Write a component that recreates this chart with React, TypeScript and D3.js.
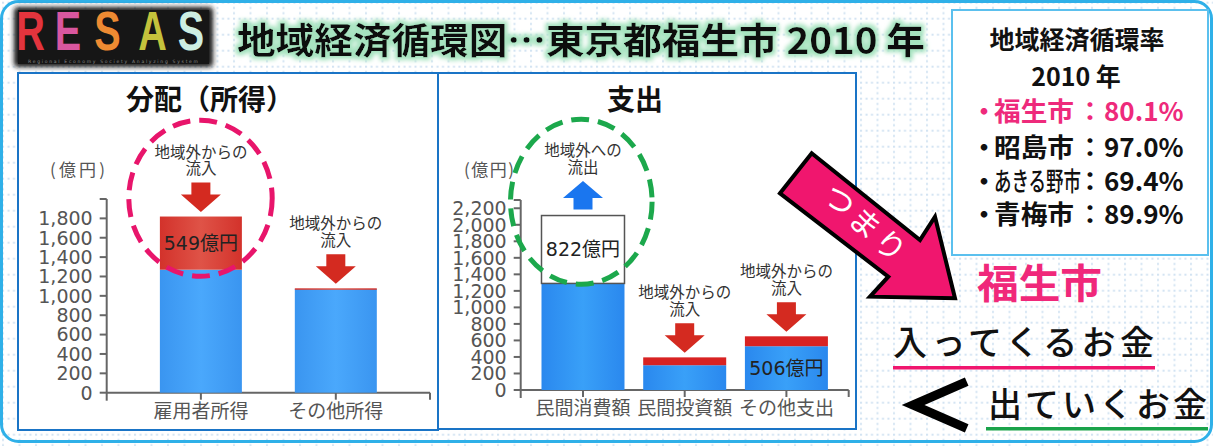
import React from "react";
import * as d3 from "d3";

const W = 1213;
const H = 446;

// ---- data ----
const distCategories = ["雇用者所得", "その他所得"];
const distBase = [1270, 1070];
const distInflow = [549, 8];
const distValueLabels = ["549億円", ""];
const distTicks = [0, 200, 400, 600, 800, 1000, 1200, 1400, 1600, 1800];

const expCategories = ["民間消費額", "民間投資額", "その他支出"];
const expBase = [1290, 300, 530];
const expFlow = [822, 95, 120];
const expFlowKind = ["out", "in", "in"];
const expValueLabels = ["822億円", "", "506億円"];
const expValueSegment = ["flow", "", "base"];
const expTicks = [0, 200, 400, 600, 800, 1000, 1200, 1400, 1600, 1800, 2000, 2200];

const rateCities = ["福生市", "昭島市", "あきる野市", "青梅市"];
const rateValues = [80.1, 97.0, 69.4, 89.9];
const logoLetters = ["R", "E", "S", "A", "S"];
const logoColors = ["#e3343d", "#d9579f", "#ee8a32", "#c4c23c", "#cdeee2"];

const JP = "'Noto Sans CJK JP', 'Noto Sans', sans-serif";
const NUM = "'DejaVu Sans', 'Noto Sans CJK JP', sans-serif";

function DownArrow({ cx, tip, color }: { cx: number; tip: number; color: string }) {
  const top = tip - 29.5;
  const neck = top + 12;
  const p = [
    [cx - 9.5, top], [cx + 9.5, top], [cx + 9.5, neck], [cx + 20, neck],
    [cx, tip], [cx - 20, neck], [cx - 9.5, neck],
  ];
  return <polygon points={p.map((d) => d.join(",")).join(" ")} fill={color} />;
}
function UpArrow({ cx, tip, color }: { cx: number; tip: number; color: string }) {
  const bottom = tip + 28.5;
  const neck = tip + 17;
  const p = [
    [cx - 9.5, bottom], [cx + 9.5, bottom], [cx + 9.5, neck], [cx + 20, neck],
    [cx, tip], [cx - 20, neck], [cx - 9.5, neck],
  ];
  return <polygon points={p.map((d) => d.join(",")).join(" ")} fill={color} />;
}

type ChartProps = {
  cats: string[];
  base: number[];
  flow: number[];
  kinds: string[];
  valueLabels: string[];
  valueSeg: string[];
  ticks: number[];
  yMax: number;
  y0: number;
  yTop: number;
  x0: number;
  x1: number;
  padding: number;
  barW: number;
  baseGrad: string;
  flowColor: string;
};

function Chart(p: ChartProps) {
  const y = d3.scaleLinear().domain([0, p.yMax]).range([p.y0, p.yTop]);
  const x = d3.scalePoint<string>().domain(p.cats).range([p.x0, p.x1]).padding(p.padding);
  const fmt = d3.format(",");
  const axisColor = "#666";
  return (
    <g>
      {/* y axis */}
      <line x1={p.x0} x2={p.x0} y1={y(p.yMax)} y2={p.y0 + 8} stroke={axisColor} strokeWidth={2} />
      <line x1={p.x0 - 7} x2={p.x0} y1={y(p.yMax)} y2={y(p.yMax)} stroke={axisColor} strokeWidth={2} />
      {p.ticks.map((t) => (
        <g key={t}>
          <line x1={p.x0 - 7} x2={p.x0} y1={y(t)} y2={y(t)} stroke={axisColor} strokeWidth={2} />
          <text x={p.x0 - 14} y={y(t)} dy="0.36em" textAnchor="end" fontFamily={NUM} fontSize={19} fill="#555">
            {fmt(t)}
          </text>
        </g>
      ))}
      {/* x axis */}
      <line x1={p.x0} x2={p.x1} y1={p.y0} y2={p.y0} stroke={axisColor} strokeWidth={2} />
      <line x1={p.x1} x2={p.x1} y1={p.y0} y2={p.y0 + 7} stroke={axisColor} strokeWidth={2} />
      {p.cats.map((c) => (
        <g key={c}>
          <line x1={x(c)} x2={x(c)} y1={p.y0} y2={p.y0 + 7} stroke={axisColor} strokeWidth={2} />
          <text x={x(c)} y={p.y0 + 18} dy="0.36em" textAnchor="middle" fontFamily={JP} fontSize={19} fill="#555">
            {c}
          </text>
        </g>
      ))}
      {/* bars */}
      {p.cats.map((c, i) => {
        const cx = x(c) as number;
        const bx = cx - p.barW / 2;
        const b = p.base[i];
        const f = p.flow[i];
        const tot = b + f;
        const isOut = p.kinds[i] === "out";
        const topY = y(tot);
        const lab = p.valueLabels[i];
        const labY = p.valueSeg[i] === "flow" ? (y(tot) + y(b)) / 2 : (y(b) + y(0)) / 2;
        const line1 = isOut ? "地域外への" : "地域外からの";
        const line2 = isOut ? "流出" : "流入";
        const arrowTop = isOut ? topY - 6 - 28.5 : topY - 4.5 - 29.5;
        const l2 = arrowTop - 14;
        const l1 = l2 - 16.5;
        return (
          <g key={c}>
            <rect x={bx} y={y(b)} width={p.barW} height={y(0) - y(b)} fill={`url(#${p.baseGrad})`} />
            {isOut ? (
              <rect x={bx} y={topY} width={p.barW} height={y(b) - topY} fill="#fff" stroke="#555" strokeWidth={1.5} />
            ) : (
              <rect x={bx} y={topY} width={p.barW} height={Math.max(1.5, y(b) - topY)} fill={p.flowColor} />
            )}
            {isOut ? (
              <UpArrow cx={cx} tip={arrowTop} color="#1a76ef" />
            ) : (
              <DownArrow cx={cx} tip={topY - 4.5} color="#d42a20" />
            )}
            <text x={cx} y={l1} dy="0.36em" textAnchor="middle" fontFamily={JP} fontSize={15.5} fill="#333">
              <tspan x={cx}>{line1}</tspan>
              <tspan x={cx} dy={16.5}>{line2}</tspan>
            </text>
            {lab ? (
              <text x={cx} y={labY} dy="0.36em" textAnchor="middle" fontFamily={NUM} fontSize={19} fill="#222">
                {lab}
              </text>
            ) : null}
          </g>
        );
      })}
    </g>
  );
}

export default function App() {
  const arrowPts = [
    [780, 193.3], [811.7, 153.3], [920, 240], [935, 216.7], [955, 298.3], [870, 296.7], [888.3, 276.7],
  ];
  const rowY = [112, 148, 182, 215];
  return (
    <svg width={W} height={H} viewBox={`0 0 ${W} ${H}`} style={{ position: "absolute", left: 0, top: 0 }}>
      <defs>
        <pattern id="grid" width={16.5} height={16} patternUnits="userSpaceOnUse" x={893} y={81.7}>
          <line x1={0} y1={1} x2={16.5} y2={1} stroke="#d2e3f2" strokeWidth={2} strokeDasharray="2 3.5" />
          <line x1={1} y1={0} x2={1} y2={16} stroke="#d2e3f2" strokeWidth={2} strokeDasharray="2 3.3" />
        </pattern>
        <linearGradient id="blueL" x1="0" x2="1" y1="0" y2="0">
          <stop offset="0" stopColor="#3a95f0" />
          <stop offset="0.5" stopColor="#4aa8fc" />
          <stop offset="1" stopColor="#3a95f0" />
        </linearGradient>
        <linearGradient id="blueR" x1="0" x2="1" y1="0" y2="0">
          <stop offset="0" stopColor="#2a88ee" />
          <stop offset="0.5" stopColor="#39a0f8" />
          <stop offset="1" stopColor="#2a88ee" />
        </linearGradient>
        <linearGradient id="redL" x1="0" x2="1" y1="0" y2="0">
          <stop offset="0" stopColor="#d3322b" />
          <stop offset="0.5" stopColor="#df5347" />
          <stop offset="1" stopColor="#d3322b" />
        </linearGradient>
        <filter id="glow" x="-5%" y="-30%" width="110%" height="160%">
          <feMorphology in="SourceAlpha" operator="dilate" radius={2.5} result="d" />
          <feFlood floodColor="#a6e3bf" result="c" />
          <feComposite in="c" in2="d" operator="in" result="g" />
          <feGaussianBlur in="g" stdDeviation={2} result="gb" />
          <feMerge>
            <feMergeNode in="gb" />
            <feMergeNode in="SourceGraphic" />
          </feMerge>
        </filter>
        <filter id="soft" x="-10%" y="-20%" width="120%" height="140%">
          <feGaussianBlur stdDeviation={2.5} />
        </filter>
      </defs>

      {/* background */}
      <rect x={0} y={0} width={W} height={H} fill="#fff" />
      <rect x={0} y={0} width={W} height={H} fill="url(#grid)" />
      <rect x={1.5} y={1.5} width={W - 3} height={440} rx={17} fill="none" stroke="#2fb0e8" strokeWidth={3} />

      {/* RESAS logo */}
      <rect x={14} y={7} width={199} height={60} rx={4} fill="#141414" filter="url(#soft)" />
      <rect x={18} y={10} width={191} height={54} fill="#161616" />
      {logoLetters.map((l, i) => {
        const centers = [30.5, 68, 107.5, 152.5, 191];
        return (
          <text
            key={i}
            transform={`translate(${centers[i]},50) scale(0.72,1)`}
            textAnchor="middle"
            fontFamily="'Liberation Sans', 'DejaVu Sans', sans-serif"
            fontWeight={700}
            fontSize={55}
            fill={logoColors[i]}
          >
            {l}
          </text>
        );
      })}
      <text x={28} y={63} fontFamily="'DejaVu Sans', sans-serif" fontSize={4.5} fill="#888" textLength={170} lengthAdjust="spacing">
        Regional Economy Society Analyzing System
      </text>

      {/* title */}
      <text
        x={237}
        y={54}
        fontFamily={JP}
        fontWeight={700}
        fontSize={36}
        fill="#111"
        textLength={688}
        lengthAdjust="spacingAndGlyphs"
        filter="url(#glow)"
      >
        地域経済循環図…東京都福生市 2010 年
      </text>

      {/* panels */}
      <rect x={18} y={73} width={420} height={357} fill="#fff" stroke="#1a74c6" strokeWidth={2} />
      <rect x={438} y={73} width={418} height={356} fill="#fff" stroke="#1a74c6" strokeWidth={2} />

      <text x={210} y={110} textAnchor="middle" fontFamily={JP} fontWeight={700} fontSize={28} fill="#111">
        分配（所得）
      </text>
      <text x={635} y={110} textAnchor="middle" fontFamily={JP} fontWeight={700} fontSize={28} fill="#111">
        支出
      </text>
      <text x={50} y={170} dy="0.36em" fontFamily={JP} fontSize={17} fill="#555" textLength={55} lengthAdjust="spacing">
        (億円)
      </text>
      <text x={464} y={170} dy="0.36em" fontFamily={JP} fontSize={17} fill="#555" textLength={50} lengthAdjust="spacing">
        (億円)
      </text>

      <Chart
        cats={distCategories}
        base={distBase}
        flow={distInflow}
        kinds={["in", "in"]}
        valueLabels={distValueLabels}
        valueSeg={["flow", ""]}
        ticks={distTicks}
        yMax={2000}
        y0={392.7}
        yTop={199}
        x0={106.7}
        x1={430}
        padding={0.698}
        barW={82}
        baseGrad="blueL"
        flowColor="url(#redL)"
      />
      <Chart
        cats={expCategories}
        base={expBase}
        flow={expFlow}
        kinds={expFlowKind}
        valueLabels={expValueLabels}
        valueSeg={expValueSegment}
        ticks={expTicks}
        yMax={2300}
        y0={390}
        yTop={200}
        x0={520.7}
        x1={848.7}
        padding={0.6125}
        barW={83}
        baseGrad="blueR"
        flowColor="#d82222"
      />

      {/* dashed highlights */}
      <ellipse cx={200.5} cy={198.3} rx={71.7} ry={78} fill="none" stroke="#e8156b" strokeWidth={5} strokeDasharray="18 9" />
      <ellipse cx={581.3} cy={201.7} rx={70.8} ry={82.5} fill="none" stroke="#1ca84c" strokeWidth={5} strokeDasharray="18 9" />

      {/* rate box */}
      <rect x={952} y={10} width={256} height={245} fill="#fff" stroke="#5bc0ee" strokeWidth={2} />
      <text x={1077} y={40} dy="0.36em" textAnchor="middle" fontFamily={JP} fontWeight={700} fontSize={25} fill="#111">
        地域経済循環率
      </text>
      <text x={1076} y={77} dy="0.36em" textAnchor="middle" fontFamily={JP} fontWeight={700} fontSize={25} fill="#111">
        2010 年
      </text>
      {rateCities.map((c, i) => {
        const col = i === 0 ? "#ee2a7b" : "#111";
        const long = c.length > 3;
        return (
          <text key={c} y={rowY[i]} dy="0.36em" fill={col} fontFamily={JP} fontWeight={700} fontSize={26}>
            <tspan x={971}>・</tspan>
            <tspan x={994} fontWeight={long ? 500 : 700} textLength={long ? 87 : 80} lengthAdjust="spacingAndGlyphs">
              {c}
            </tspan>
            <tspan x={1077}>：</tspan>
            <tspan x={1104}>{rateValues[i].toFixed(1)}%</tspan>
          </text>
        );
      })}

      {/* つまり arrow */}
      <polygon
        points={arrowPts.map((d) => d.join(",")).join(" ")}
        fill="#f0166e"
        stroke="#000"
        strokeWidth={4}
        strokeLinejoin="miter"
      />
      <text
        transform="translate(866,224) rotate(42)"
        textAnchor="middle"
        dy="0.36em"
        fontFamily={JP}
        fontSize={31}
        fill="#fff"
        letterSpacing={3}
      >
        つまり
      </text>

      {/* conclusion */}
      <text x={977} y={298} fontFamily={JP} fontWeight={700} fontSize={40} fill="#f0287a" textLength={125} lengthAdjust="spacingAndGlyphs">
        福生市
      </text>
      <text x={893} y={355} fontFamily={JP} fontWeight={500} fontSize={34} fill="#111" textLength={261} lengthAdjust="spacing">
        入ってくるお金
      </text>
      <rect x={893} y={366} width={262} height={3.5} fill="#f0166e" />
      <polyline points="966.7,381.7 913,405 966.7,428.3" fill="none" stroke="#000" strokeWidth={9} strokeLinejoin="miter" />
      <text x={988} y={417} fontFamily={JP} fontWeight={500} fontSize={34} fill="#111" textLength={219} lengthAdjust="spacing">
        出ていくお金
      </text>
      <rect x={986} y={427} width={222} height={3.5} fill="#1aa34a" />
    </svg>
  );
}
